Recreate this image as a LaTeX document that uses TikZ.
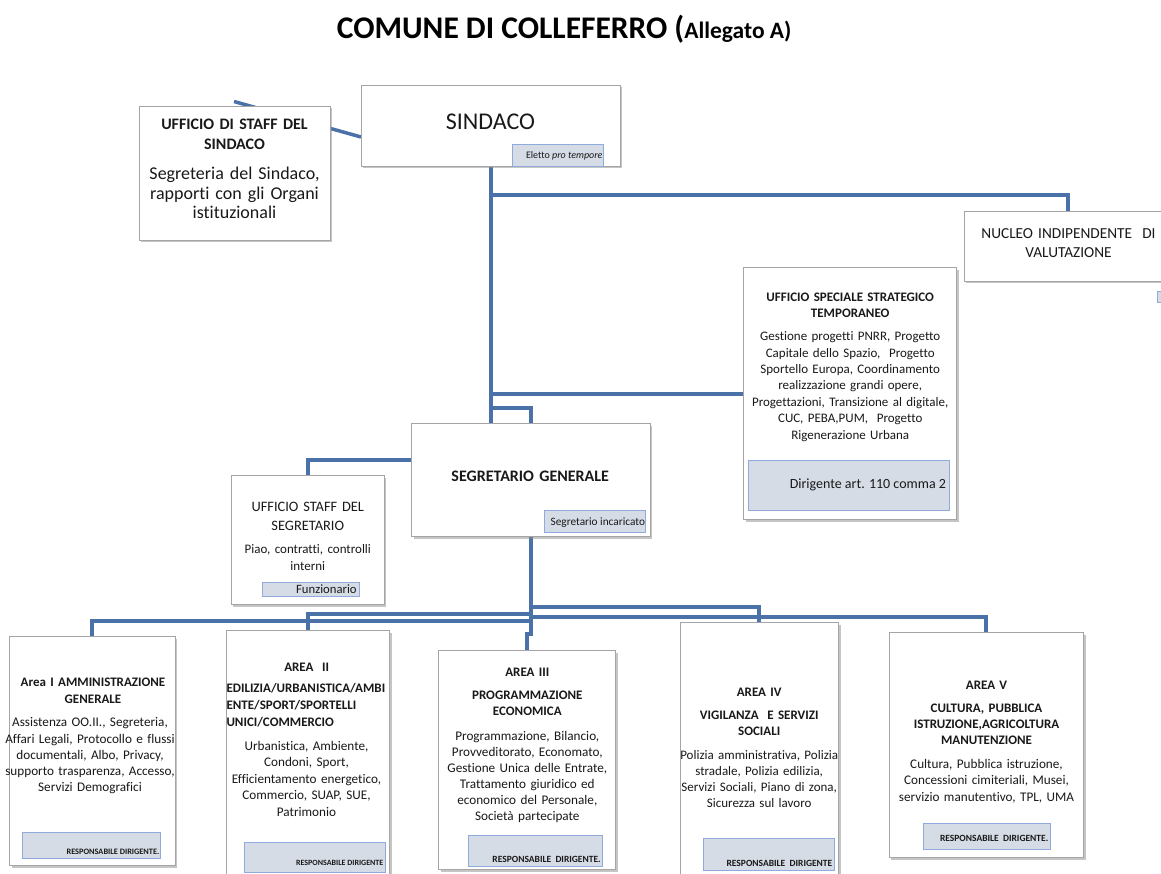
\documentclass[tikz,border=0pt]{standalone}
\usepackage{fontspec}
\setmainfont[Ligatures={NoCommon}]{Carlito}
\usetikzlibrary{shadows,backgrounds,calc}
\definecolor{conncol}{RGB}{74,114,168}
\definecolor{boxgray}{RGB}{165,165,165}
\definecolor{labfill}{RGB}{214,220,229}
\definecolor{labdraw}{RGB}{143,170,220}
\definecolor{txtcol}{RGB}{25,25,25}
\tikzset{
 obox/.style={draw=boxgray, line width=0.9pt, fill=white, inner sep=0pt, outer sep=0pt,
   drop shadow={shadow xshift=2pt, shadow yshift=-2.5pt, fill=black!45, opacity=0.5}},
 lbox/.style={draw=labdraw, line width=0.9pt, fill=labfill, inner sep=0pt, outer sep=0pt},
 conn/.style={draw=conncol, line width=4pt},
 tx/.style={inner sep=0pt, outer sep=0pt, align=center, text width=#1, anchor=base, text=txtcol},
 txl/.style={inner sep=0pt, outer sep=0pt, align=left, text width=#1, anchor=base west, text=txtcol},
 tl/.style={inner sep=0pt, outer sep=0pt, anchor=base east, text=txtcol},
}
\newcommand\mybox[6][obox]{\node[#1,anchor=north west,minimum width={(#5)-(#3)},minimum height={(#6)-(#4)}] (#2) at (#3,#4) {};}
\begin{document}
\begin{tikzpicture}[x=1pt,y=-1pt]
\useasboundingbox (0,0) rectangle (1161,874);
% title
\node[inner sep=0pt, anchor=base west, text=black] (title) at (336.7,38.3)
  {\fontsize{31.5}{36}\selectfont\bfseries COMUNE DI COLLEFERRO (\fontsize{23.5}{28}\selectfont Allegato A)};
% boxes
\mybox{stsind}{139}{106}{330}{240}
\mybox{sind}{361}{85}{620}{166}
\mybox{nuc}{964}{211}{1172}{281}
\mybox{spec}{743.5}{267.5}{956.5}{519.5}
\mybox{segr}{411.5}{423.5}{650}{536.5}
\mybox{stseg}{231}{475}{384}{604}
\mybox{aone}{9.5}{636}{175}{865}
\mybox{atwo}{226}{630.5}{389.5}{885}
\mybox{athree}{438.5}{650}{615.5}{869.5}
\mybox{afour}{680}{622.5}{838.5}{885}
\mybox{afive}{889}{632.5}{1083.5}{857.5}
% labels
\mybox[lbox]{lsind}{512.3}{144.3}{603.3}{166}
\mybox[lbox]{lnuc}{1157.7}{291}{1175}{302.7}
\mybox[lbox]{lspec}{748.3}{460}{949.3}{510.7}
\mybox[lbox]{lsegr}{544.3}{510}{645.3}{532.7}
\mybox[lbox]{lstseg}{262.3}{582.7}{359.3}{596.7}
\mybox[lbox]{laone}{22.3}{832.7}{160.7}{858.3}
\mybox[lbox]{latwo}{244.3}{842.3}{385.7}{872.3}
\mybox[lbox]{lathree}{468.3}{835}{602.3}{866.7}
\mybox[lbox]{lafour}{703.3}{838.3}{834.3}{870}
\mybox[lbox]{lafive}{923.3}{823.3}{1050.7}{849.3}
% texts: staff sindaco
\node[tx=185pt, font=\fontsize{16}{20}\selectfont\bfseries] (tstsindA) at (234.5,129.3) {UFFICIO DI STAFF DEL\\SINDACO};
\node[tx=185pt, font=\fontsize{18}{19.3}\selectfont] (tstsindB) at (234.5,180) {Segreteria del Sindaco,\\rapporti con gli Organi\\istituzionali};
% sindaco
\node[tx=200pt, font=\fontsize{24}{28}\selectfont] (tsind) at (490.5,130) {SINDACO};
\node[tl, font=\fontsize{10}{12}\selectfont] (tlsind) at (602.5,159) {Eletto \textit{pro tempore}};
% nucleo
\node[tx=200pt, font=\fontsize{15.3}{19}\selectfont] (tnuc) at (1068.5,238.3) {NUCLEO INDIPENDENTE \ DI\\VALUTAZIONE};
% speciale
\node[tx=205pt, font=\fontsize{13}{15.7}\selectfont\bfseries] (tspecA) at (850.2,301.7) {UFFICIO SPECIALE STRATEGICO\\TEMPORANEO};
\node[tx=210pt, font=\fontsize{13}{16.4}\selectfont] (tspecB) at (850.2,340.7) {Gestione progetti PNRR, Progetto\\Capitale dello Spazio, \ Progetto\\Sportello Europa, Coordinamento\\realizzazione grandi opere,\\Progettazioni, Transizione al digitale,\\CUC, PEBA,PUM, \ Progetto\\Rigenerazione Urbana};
\node[tl, font=\fontsize{14}{16}\selectfont] (tlspec) at (946,488.3) {Dirigente art. 110 comma 2};
% segretario
\node[tx=230pt, font=\fontsize{16}{19}\selectfont\bfseries] (tsegr) at (530.2,481.7) {SEGRETARIO GENERALE};
\node[tl, font=\fontsize{11.3}{13}\selectfont] (tlsegr) at (645,525) {Segretario incaricato};
% staff segretario
\node[tx=150pt, font=\fontsize{14.4}{18.3}\selectfont] (tstsegA) at (307.8,511.7) {UFFICIO STAFF DEL\\SEGRETARIO};
\node[tx=150pt, font=\fontsize{13}{16.7}\selectfont] (tstsegB) at (307.8,553.3) {Piao, contratti, controlli\\interni};
\node[tl, font=\fontsize{12.7}{14}\selectfont] (tlstseg) at (356.7,593.3) {Funzionario};
% area I
\node[tx=170pt, font=\fontsize{13}{16.6}\selectfont\bfseries] (taoneA) at (93,686.7) {Area I AMMINISTRAZIONE\\GENERALE};
\node[tx=175pt, font=\fontsize{13.2}{16.3}\selectfont] (taoneB) at (90,726.7) {Assistenza OO.II., Segreteria,\\Affari Legali, Protocollo e flussi\\documentali, Albo, Privacy,\\supporto trasparenza, Accesso,\\Servizi Demografici};
\node[tl, font=\fontsize{8.3}{10}\selectfont\bfseries] (tlaone) at (159.3,854.3) {RESPONSABILE DIRIGENTE.};
% area II
\node[tx=160pt, font=\fontsize{13}{16}\selectfont\bfseries] (tatwoA) at (306.7,671.5) {AREA \ II};
\node[txl=170pt, font=\fontsize{13}{17}\selectfont\bfseries] (tatwoB) at (226.5,692.5) {EDILIZIA/URBANISTICA/AMBI\\ENTE/SPORT/SPORTELLI\\UNICI/COMMERCIO};
\node[tx=165pt, font=\fontsize{13.2}{16.4}\selectfont] (tatwoC) at (306.5,750.5) {Urbanistica, Ambiente,\\Condoni, Sport,\\Efficientamento energetico,\\Commercio, SUAP, SUE,\\Patrimonio};
\node[tl, font=\fontsize{8}{10}\selectfont\bfseries] (tlatwo) at (383.3,865) {RESPONSABILE DIRIGENTE};
% area III
\node[tx=170pt, font=\fontsize{13}{16}\selectfont\bfseries] (tathreeA) at (527.3,676.7) {AREA III};
\node[tx=170pt, font=\fontsize{13}{15.7}\selectfont\bfseries] (tathreeB) at (527.3,699.3) {PROGRAMMAZIONE\\ECONOMICA};
\node[tx=175pt, font=\fontsize{13.2}{16.1}\selectfont] (tathreeC) at (527.3,740) {Programmazione, Bilancio,\\Provveditorato, Economato,\\Gestione Unica delle Entrate,\\Trattamento giuridico ed\\economico del Personale,\\Società partecipate};
\node[tl, font=\fontsize{9.5}{11}\selectfont\bfseries] (tlathree) at (600.7,862.7) {RESPONSABILE \ DIRIGENTE.};
% area IV
\node[tx=160pt, font=\fontsize{13}{16}\selectfont\bfseries] (tafourA) at (759.2,696) {AREA IV};
\node[tx=160pt, font=\fontsize{13}{16}\selectfont\bfseries] (tafourB) at (759.2,719) {VIGILANZA \ E SERVIZI\\SOCIALI};
\node[tx=165pt, font=\fontsize{13}{16.2}\selectfont] (tafourC) at (759.2,759) {Polizia amministrativa, Polizia\\stradale, Polizia edilizia,\\Servizi Sociali, Piano di zona,\\Sicurezza sul lavoro};
\node[tl, font=\fontsize{9.5}{11}\selectfont\bfseries] (tlafour) at (832.3,866) {RESPONSABILE \ DIRIGENTE};
% area V
\node[tx=190pt, font=\fontsize{13}{16}\selectfont\bfseries] (tafiveA) at (986.5,689.3) {AREA V};
\node[tx=190pt, font=\fontsize{13}{16.2}\selectfont\bfseries] (tafiveB) at (986.5,712.3) {CULTURA, PUBBLICA\\ISTRUZIONE,AGRICOLTURA\\MANUTENZIONE};
\node[tx=190pt, font=\fontsize{13.2}{16.4}\selectfont] (tafiveC) at (986.5,768.5) {Cultura, Pubblica istruzione,\\Concessioni cimiteriali, Musei,\\servizio manutentivo, TPL, UMA};
\node[tl, font=\fontsize{9.5}{11}\selectfont\bfseries] (tlafive) at (1048.3,841.7) {RESPONSABILE \ DIRIGENTE.};
% connectors
\begin{scope}[on background layer]
\fill[white] (0,0) rectangle (1161,874);
\coordinate (stub) at (234,101.5);
\draw[conn, line width=3.5pt] (stub) -- ($(sind.south west)+(0,-29)$);
\draw[conn] (sind.south) -- (sind.south |- segr.north);
\coordinate (jn) at ($(sind.south)+(0,29)$);
\draw[conn] (jn) -| (nuc.north);
\draw[conn] (spec.west) -- (spec.west -| sind.south);
\coordinate (jb) at ($(sind.south |- segr.north)+(0,-16)$);
\draw[conn] (jb) -| (segr.north);
\coordinate (js) at ($(segr.north west)+(0,36)$);
\draw[conn] (js) -| (stseg.north);
\draw[conn] (segr.south) -- ++(0,97) -| (athree.north);
\coordinate (jfour) at ($(segr.south)+(0,70.5)$);
\draw[conn] (jfour) -| (afour.north);
\coordinate (jfive) at ($(segr.south)+(0,80.5)$);
\draw[conn] (jfive) -| (afive.north);
\coordinate (jone) at ($(segr.south)+(0,84.5)$);
\draw[conn] (aone.north) |- (jone);
\coordinate (jtwo) at ($(segr.south)+(0,77)$);
\draw[conn] (atwo.north) |- (jtwo);
\end{scope}
\end{tikzpicture}
\end{document}
